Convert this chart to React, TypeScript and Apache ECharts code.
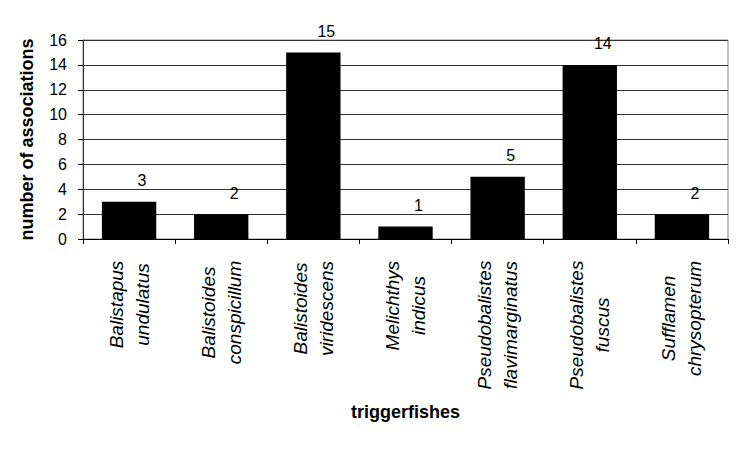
import React, { useEffect, useRef } from "react";
import * as echarts from "echarts";

const categories: string[] = [
  "Balistapus\nundulatus",
  "Balistoides\nconspicillum",
  "Balistoides\nviridescens",
  "Melichthys\nindicus",
  "Pseudobalistes\nflavimarginatus",
  "Pseudobalistes\nfuscus",
  "Sufflamen\nchrysopterum",
];
const associations: number[] = [3, 2, 15, 1, 5, 14, 2];
const yTitle = "number of associations";
const xTitle = "triggerfishes";

const FONT = '"Liberation Sans", Arial, sans-serif';
const XLAB_SIZE = 19;

function measure(text: string): number {
  const c = document.createElement("canvas");
  const ctx = c.getContext("2d");
  if (!ctx) return text.length * 9;
  ctx.font = `italic ${XLAB_SIZE}px "Liberation Sans"`;
  return ctx.measureText(text).width;
}

export default function App() {
  const ref = useRef<HTMLDivElement>(null);
  useEffect(() => {
    if (!ref.current) return;
    const chart = echarts.init(ref.current, null, { renderer: "svg" });
    const rich: Record<string, any> = {};
    categories.forEach((c, i) => {
      const w = Math.max(...c.split("\n").map(measure));
      rich["c" + i] = {
        width: Math.ceil(w) + 1,
        align: "center",
        fontStyle: "italic",
        fontSize: XLAB_SIZE,
        fontFamily: FONT,
        color: "#000",
        lineHeight: 26,
      };
    });
    chart.setOption({
      animation: false,
      backgroundColor: "#fff",
      grid: [
        {
          left: 83,
          right: 15,
          top: 40,
          bottom: 211,
          show: true,
          borderColor: "#888",
          borderWidth: 1,
        },
        {
          left: -10,
          right: 2,
          top: 5,
          bottom: 3,
          show: true,
          borderColor: "#222",
          borderWidth: 2,
          backgroundColor: "transparent",
        },
      ],
      xAxis: [
        {
          type: "category",
          data: categories,
          name: xTitle,
          nameLocation: "middle",
          nameGap: 164,
          nameTextStyle: {
            fontFamily: FONT,
            fontSize: 18,
            fontWeight: "bold",
            color: "#000",
          },
          axisLine: { lineStyle: { color: "#000", width: 1 } },
          axisTick: { show: true, length: 5, lineStyle: { color: "#000" } },
          axisLabel: {
            rotate: 90,
            margin: 21,
            interval: 0,
            formatter: (v: string) => {
              const i = categories.indexOf(v);
              return v
                .split("\n")
                .map((l) => `{c${i}|${l}}`)
                .join("\n");
            },
            rich,
          },
        },
        { type: "value", gridIndex: 1, show: false },
      ],
      yAxis: [
        {
          type: "value",
          min: 0,
          max: 16,
          interval: 2,
          name: yTitle,
          nameLocation: "middle",
          nameRotate: 90,
          nameGap: 47,
          nameTextStyle: {
            fontFamily: FONT,
            fontSize: 18,
            fontWeight: "bold",
            color: "#000",
          },
          axisLine: { show: true, lineStyle: { color: "#333", width: 1 } },
          axisTick: { show: true, length: 5, lineStyle: { color: "#000" } },
          axisLabel: {
            margin: 16,
            fontFamily: FONT,
            fontSize: 16,
            color: "#000",
          },
          splitLine: { show: true, lineStyle: { color: "#333", width: 1 } },
        },
        { type: "value", gridIndex: 1, show: false },
      ],
      series: [
        {
          type: "bar",
          data: associations,
          barWidth: "59%",
          itemStyle: { color: "#000" },
          label: {
            show: true,
            position: "top",
            distance: 13,
            offset: [13, 0],
            fontFamily: FONT,
            fontSize: 16,
            color: "#000",
          },
        },
      ],
    });
    return () => chart.dispose();
  }, []);
  return <div ref={ref} style={{ width: 743, height: 450, margin: -8 }} />;
}
